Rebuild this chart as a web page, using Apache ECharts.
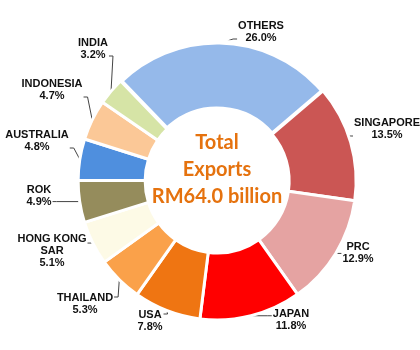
<!DOCTYPE html>
<html><head><meta charset="utf-8">
<script src="https://cdn.jsdelivr.net/npm/echarts@6/dist/echarts.min.js"></script>
<style>html,body{margin:0;padding:0;background:#fff}#c{width:420px;height:350px}</style>
</head><body><div id="c"></div>
<script>
const categories = ['OTHERS','SINGAPORE','PRC','JAPAN','USA','THAILAND','HONG KONG\nSAR','ROK','AUSTRALIA','INDONESIA','INDIA'];
const shares = [26.0, 13.5, 12.9, 11.8, 7.8, 5.3, 5.1, 4.9, 4.8, 4.7, 3.2];
const colors = ['#95B9EA','#CB5654','#E5A3A2','#FF0000','#EF7512','#FAA14A','#FDFAE6','#958C5C','#4F8FDE','#FBC897','#D6E4A6'];
const centerText = 'Total\nExports\nRM64.0 billion';

// label block centres (layout only)
const labelPos = [[261,32],[387,129],[358,253],[291,320],[150,321],[85,304],[52,251],[39,196],[37,141],[52,90],[93,49]];

const chart = echarts.init(document.getElementById('c'), null, {renderer:'canvas'});
chart.setOption({
  backgroundColor:'#fff',
  animation:false,
  graphic:[{type:'text', x:217, y:170, style:{text:centerText, fill:'#E5720E', font:'bold 20px Lato', align:'center', verticalAlign:'middle', lineHeight:27}}],
  series:[{
    type:'pie',
    center:['51.7%','51.7%'],
    radius:[72,139],
    startAngle:134,
    clockwise:true,
    avoidLabelOverlap:false,
    data: categories.map((n,i)=>({name:n, value:shares[i], itemStyle:{color:colors[i], borderWidth: i===0 ? 5 : 3}})),
    itemStyle:{borderColor:'#fff', borderWidth:3},
    label:{
      show:true, position:'outside', color:'#111', fontFamily:'Liberation Sans', fontWeight:'bold', fontSize:11, lineHeight:12, align:'center', overflow:'none',
      formatter:p=>p.name+'\n'+p.value.toFixed(1)+'%'
    },
    labelLine:{show:true, length:8, length2:8, lineStyle:{color:'#444', width:1}},
    labelLayout: p => {
      const [cx, cy] = labelPos[p.dataIndex];
      const w = p.labelRect.width, h = p.labelRect.height;
      const p0 = p.labelLinePoints[0];
      const top = cy - h/2, bot = cy + h/2;
      const ey = Math.max(top + 5, Math.min(bot - 5, p0[1]));
      let ex, nx;
      if (p0[0] > cx) { ex = cx + w/2 + 1; nx = ex + 4; }
      else { ex = cx - w/2 - 1; nx = ex - 4; }
      return {x:cx, y:cy, align:'center', verticalAlign:'middle', labelLinePoints:[p0, [nx, ey], [ex, ey]]};
    }
  }]
});
</script></body></html>
